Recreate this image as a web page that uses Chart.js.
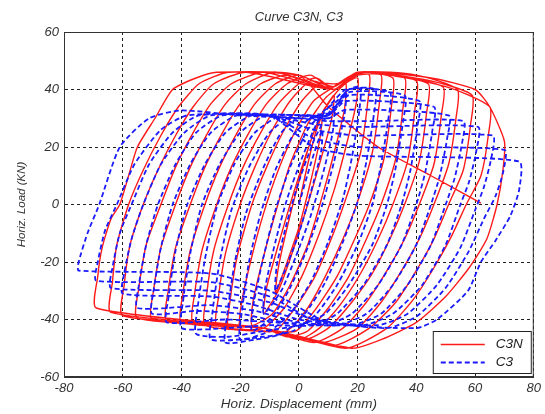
<!DOCTYPE html>
<html>
<head>
<meta charset="utf-8">
<script src="https://cdn.jsdelivr.net/npm/chart.js@4.4.0/dist/chart.umd.min.js"></script>
<style>
body { margin: 0; background: #fff; }
canvas { display: block; }
</style>
</head>
<body>
<canvas id="hystChart" width="545" height="414"></canvas>
<script>
// series names
var seriesNames = ['C3N', 'C3'];

// C3N: displacement (mm), load (KN), cycle by cycle
var c3nPoints = [
  [0,0],[3,14],[6,26],[8,31],
  [7,22],[4,8],[0,-8],[-4,-20],[-8,-31],
  [-7,-22],[-4,-8],[0,8],[4,22],[8,32],[12,38],
  [11,29],[7,14],[3,0],[-2,-16],[-7,-30],[-12,-38],
  [-11,-29],[-7,-14],[-3,0],[2,16],[7,30],[12,38],[16,42],
  [15.5,33],[12,18],[8,3],[3,-14],[-3,-28],[-9,-38],[-16,-42],
  [-15.5,-33],[-12,-18],[-8,-3],[-3,14],[3,28],[9,37],[14,41],[20,44],
  [19.5,35],[16,20],[12,5],[7,-10],[1,-25],[-5,-36],[-12,-43],[-20,-43],
  [-19.5,-34],[-16,-18],[-12,-3],[-7,12],[-1,26],[5,36],[12,41],[18,45],[24,45],
  [23.5,36],[21,18],[16,2],[11,-12],[5,-26],[-2,-37],[-8,-44],[-14,-44],[-24,-43],
  [-23.5,-34],[-21,-18],[-16,0],[-11,13],[-5,26],[1,36],[7,42],[13,42],[20,45],[28,45],
  [27.5,36],[25,18],[20,1],[15,-12],[9,-25],[3,-36],[-4,-44],[-12,-44],[-28,-42],
  [-27.5,-33],[-25,-17],[-20,0],[-15,13],[-9,26],[-3,36],[4,43],[12,41],[20,46],[32,44],
  [31.5,34],[29,16],[24,0],[19,-12],[13,-25],[6,-36],[-1,-44],[-12,-44],[-32,-42],
  [-31.5,-32],[-29,-16],[-24,0],[-19,13],[-13,25],[-7,35],[0,42],[6,44],[12,40],[20,46],[36,44],
  [35.5,34],[33,16],[28,0],[23,-12],[17,-25],[10,-36],[3,-44],[-4,-46],[-12,-43],[-36,-41],
  [-35.5,-31],[-33,-16],[-28,0],[-23,13],[-17,25],[-11,35],[-4,42],[4,45],[12,40],[21,46],[40,43],
  [39.5,33],[37,15],[32,0],[27,-12],[21,-24],[14,-35],[7,-43],[0,-47],[-12,-43],[-40,-41],
  [-39.5,-31],[-37,-16],[-32,0],[-27,13],[-21,25],[-15,35],[-8,42],[0,45],[12,40],[21,46],[44,42],
  [43.5,32],[41,15],[36,0],[31,-12],[25,-24],[18,-34],[10,-43],[2,-47],[-12,-43],[-45,-40.5],
  [-44.5,-30],[-42,-15],[-37,0],[-32,13],[-26,25],[-20,35],[-13,42],[-4,45],[12,40],[22,46],[49,41],
  [48.5,31],[46,14],[41,0],[36,-12],[30,-23],[23,-34],[15,-43],[5,-48],[-12,-43],[-50,-40],
  [-49.5,-30],[-47,-15],[-42,0],[-37,13],[-31,25],[-25,35],[-18,42],[-8,46],[12,40],[22,46],[40,45],[54,40],
  [53.5,30],[51,14],[46,0],[41,-12],[35,-23],[28,-34],[20,-43],[8,-48],[-12,-43],[-55,-39.5],
  [-54.5,-29],[-52,-14],[-47,0],[-42,13],[-36,25],[-30,35],[-23,42],[-12,46],[12,40],[22,46],[45,43],[59,38],
  [58.5,28],[56,12],[51,0],[46,-12],[40,-23],[33,-34],[24,-43],[12,-49],[-12,-43],[-60,-38.7],
  [-59.5,-28],[-57.5,-14],[-53,0],[-48,12],[-42,24],[-36,34],[-29,42],[-18,46],[12,40],[22,46],[50,41],[65,34],
  [64.5,24],[62,10],[57,0],[52,-11],[46,-22],[39,-33],[30,-43],[16,-50],[-12,-43],[-64,-37.5],
  [-63.5,-27],[-62,-14],[-58,0],[-53,12],[-47,24],[-41,34],[-34,42],[-24,46],[0,45],[12,40],[22,46],[45,44],[60,40],[65,34],[70,22],
  [69.5,12],[67.5,0],[64,-12],[58,-22],[50,-32],[40,-41],[28,-47],[18,-50],[-12,-43],[-69,-36],
  [-68.5,-25],[-67,-15],[-64,-5],[-61,0],[-58,10],[-55,20],[-49,30],[-43,40],[-35,44],[-28,46],[0,45],[10,34],[27,20],[45,10],[62,0.5]
];

// C3: displacement (mm), load (KN)
var c3Points = [
  [0,0],[4,14],[8,26],
  [7.5,18],[4,4],[0,-10],[-4,-21],[-8,-30],
  [-7.5,-21],[-4,-6],[0,8],[5,22],[9,30],[12,34],
  [11.5,25],[8,10],[4,-4],[-1,-18],[-6,-30],[-12,-38],
  [-11.5,-29],[-8,-13],[-4,2],[1,16],[6,28],[11,35],[16,40],
  [15.5,31],[12,15],[8,0],[3,-15],[-3,-29],[-9,-39],[-16,-44],
  [-15.5,-35],[-12,-18],[-8,-2],[-3,13],[3,26],[9,33],[13,36],[17,40],[21,41],
  [20.5,32],[18,16],[15,2],[10,-13],[4,-27],[-3,-38],[-10,-44],[-20,-47],
  [-19.5,-38],[-17,-20],[-13,-3],[-8,12],[-2,24],[5,31],[11,32],[17,40],[26,40],
  [25.5,31],[23,15],[20,1],[15,-13],[9,-27],[2,-38],[-6,-45],[-15,-47],[-25,-48],
  [-24.5,-39],[-22,-21],[-18,-3],[-12,13],[-6,25],[1,31],[10,31],[17,40],[31,39],
  [30.5,30],[28,14],[25,0],[20,-14],[13,-28],[6,-38],[-2,-44],[-12,-46],[-30,-47],
  [-29.5,-38],[-27,-20],[-23,-2],[-17,13],[-10,25],[-2,31],[10,31],[17,39],[36,38],
  [35.5,29],[33,13],[30,0],[25,-14],[17,-28],[9,-38],[0,-42],[-12,-44],[-24,-46],[-35,-45],
  [-34.5,-36],[-32,-19],[-28,-1],[-22,14],[-15,25],[-6,31],[10,31],[17,38],[41,36],
  [40.5,28],[38,12],[35,0],[30,-14],[22,-28],[13,-38],[5,-42],[-10,-42],[-25,-43],[-40,-43],
  [-39.5,-34],[-37,-17],[-33,0],[-27,14],[-20,25],[-11,31],[10,31],[16,36],[46,34],
  [45.5,26],[43,11],[40,0],[35,-14],[27,-28],[18,-38],[9,-42],[-8,-41],[-25,-40],[-45,-41],
  [-44.5,-33],[-42,-16],[-38,0],[-32,14],[-25,25],[-16,31],[0,31],[10,30],[16,33],[51,31],
  [50.5,23],[48,10],[45,0],[40,-14],[32,-28],[23,-38],[13,-42],[-5,-41],[-20,-38],[-35,-37],[-50,-38],
  [-49.5,-30],[-47,-15],[-43,0],[-37,14],[-30,25],[-21,31],[0,30],[10,29],[25,29],[56,29],
  [55.5,21],[53,9],[50,0],[45,-14],[37,-28],[28,-38],[18,-42],[0,-41],[-15,-37],[-30,-35],[-55,-36],
  [-54.5,-28],[-52,-14],[-48,0],[-42,14],[-35,25],[-26,31],[-10,31],[5,28],[20,27],[61,27],
  [60.5,19],[58,8],[55,0],[50,-14],[42,-28],[32,-38],[22,-42],[0,-40],[-15,-35],[-30,-32],[-60,-31],
  [-59.5,-24],[-57,-12],[-53,0],[-47,14],[-39,25],[-30,31],[-10,31],[5,26],[20,24],[66,24],
  [65.5,16],[63,6],[60,-2],[55,-15],[47,-28],[37,-38],[27,-42],[5,-40],[-10,-34],[-30,-30],[-64,-29],
  [-63.5,-22],[-61,-10],[-57,0],[-51,14],[-43,25],[-34,31],[-10,31],[5,23],[20,20],[70,19],
  [69.5,11],[67,3],[63,-5],[58,-16],[50,-29],[40,-39],[30,-43],[5,-40],[-10,-32],[-30,-27],[-69,-26.5],
  [-68.5,-20],[-66,-9],[-62,0],[-56,14],[-47,26],[-38,31],[-10,31],[5,20],[20,17],[75,15],
  [75,5],[72,-4],[67,-12.5],[62,-20],[57.6,-30],[47,-40],[40,-43],[10,-41],[-10,-30],[-30,-24],[-75,-23],
  [-75,-20],[-72,-10],[-68,0],[-61,20],[-51,30],[-40,32.7],[-20,31],[0,30],[10,30]
];

var xLimits = [-80, 80];
var yLimits = [-60, 60];

var fontFamily = '"Liberation Sans", Arial, sans-serif';

function toXY(pts) {
  return pts.map(function(p) { return { x: p[0], y: p[1] }; });
}

// frame round the plot + legend box in the lower right corner
var frameAndLegend = {
  id: 'frameAndLegend',
  afterDraw: function(chart) {
    var ctx = chart.ctx;
    var a = chart.chartArea;
    ctx.save();
    ctx.strokeStyle = '#333';
    ctx.lineWidth = 1;
    ctx.setLineDash([]);
    ctx.strokeRect(a.left + 0.5, a.top + 0.5, a.right - a.left - 1, a.bottom - a.top - 1);

    var bx = a.right - 101, by = a.bottom - 46, bw = 98, bh = 42;
    ctx.fillStyle = '#fff';
    ctx.fillRect(bx, by, bw, bh);
    ctx.strokeStyle = '#222';
    ctx.strokeRect(bx + 0.5, by + 0.5, bw, bh);
    chart.data.datasets.forEach(function(ds, i) {
      var y = by + 13.5 + i * 18;
      ctx.strokeStyle = ds.borderColor;
      ctx.lineWidth = ds.borderWidth;
      ctx.setLineDash(ds.borderDash || []);
      ctx.beginPath();
      ctx.moveTo(bx + 8, y);
      ctx.lineTo(bx + 52, y);
      ctx.stroke();
      ctx.setLineDash([]);
      ctx.fillStyle = '#222';
      ctx.font = 'italic 13.5px ' + fontFamily;
      ctx.textBaseline = 'middle';
      ctx.fillText(ds.label, bx + 63, y);
    });
    ctx.restore();
  }
};

var ctx = document.getElementById('hystChart').getContext('2d');
var hystChart = new Chart(ctx, {
  type: 'scatter',
  data: {
    datasets: [{
      label: seriesNames[0],
      data: toXY(c3nPoints),
      showLine: true,
      borderColor: '#ff1a1a',
      backgroundColor: '#ff1a1a',
      borderWidth: 1.4,
      pointRadius: 0,
      tension: 0.2,
      order: 2
    },
    {
      label: seriesNames[1],
      data: toXY(c3Points),
      showLine: true,
      borderColor: '#1a1aff',
      backgroundColor: '#1a1aff',
      borderWidth: 1.8,
      borderDash: [5, 3],
      pointRadius: 0,
      tension: 0.2,
      order: 1
    }]
  },
  options: {
    responsive: false,
    animation: false,
    devicePixelRatio: 1,
    layout: { padding: { left: 0, right: 9, top: 0, bottom: 0 } },
    plugins: {
      legend: { display: false },
      tooltip: { enabled: false },
      title: {
        display: true,
        text: 'Curve C3N, C3',
        fullSize: false,
        color: '#333',
        font: { family: fontFamily, size: 13, style: 'italic', weight: 'normal' },
        padding: { top: 10, bottom: 6.4 }
      }
    },
    scales: {
      x: {
        type: 'linear',
        min: xLimits[0],
        max: xLimits[1],
        afterFit: function(scale) { scale.height = 37; },
        ticks: {
          stepSize: 20,
          padding: 4,
          color: '#333',
          font: { family: fontFamily, size: 13, style: 'italic' }
        },
        grid: { color: '#222', lineWidth: 1, drawTicks: false },
        border: { color: '#333', width: 1, dash: [3, 3] },
        title: {
          display: true,
          text: 'Horiz. Displacement (mm)',
          color: '#333',
          font: { family: fontFamily, size: 13.5, style: 'italic' },
          padding: { top: 0, bottom: 2 }
        }
      },
      y: {
        type: 'linear',
        min: yLimits[0],
        max: yLimits[1],
        afterFit: function(scale) { scale.width = 64; },
        ticks: {
          stepSize: 20,
          padding: 5,
          color: '#333',
          font: { family: fontFamily, size: 13, style: 'italic' }
        },
        grid: { color: '#222', lineWidth: 1, drawTicks: false },
        border: { color: '#333', width: 1, dash: [3, 3] },
        title: {
          display: true,
          text: 'Horiz. Load (KN)',
          color: '#333',
          font: { family: fontFamily, size: 11.5, style: 'italic' },
          padding: { top: 15, bottom: 0 }
        }
      }
    }
  },
  plugins: [frameAndLegend]
});
</script>
</body>
</html>
